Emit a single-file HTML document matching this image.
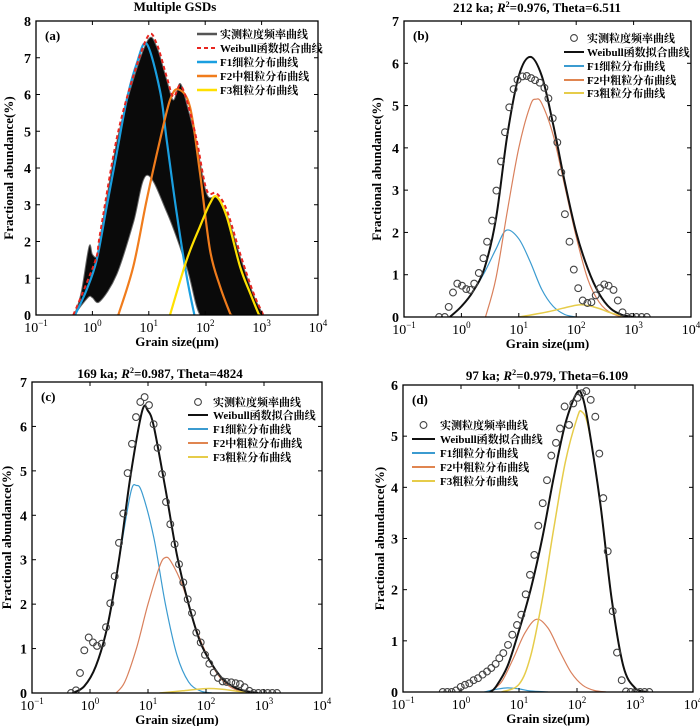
<!DOCTYPE html>
<html><head><meta charset="utf-8"><style>
html,body{margin:0;padding:0;background:#fff;}
svg{display:block;font-family:"Liberation Serif","Noto Serif CJK SC",serif;}
</style></head><body>
<svg id="chart" width="700" height="726" viewBox="0 0 700 726" xmlns="http://www.w3.org/2000/svg"></svg>
<script>
// ---------- DATA (log10 of grain size in µm, abundance in %) ----------
// Panel a
const aEnvUpperLog=[-0.32,-0.2,-0.06,0.0,0.076,0.135,0.431,0.726,0.992,1.14,1.317,1.435,1.553,1.672,1.849,2.026,2.204,2.381,2.617,2.854,3.031];
const aEnvUpperVal=[0,0.6,1.86,1.65,1.6,2.1,4.7,6.4,7.5,7.3,6.4,5.85,6.3,5.75,4.65,3.3,3.2,2.75,1.6,0.55,0];
const aEnvLowerLog=[3.031,2.6,2.2,1.908,1.672,1.317,0.962,0.726,0.431,0.135,0.0,-0.06,-0.2,-0.32];
const aEnvLowerVal=[0,0,0,0,1.3,2.8,3.8,2.5,1.1,0.37,0.47,0.5,0.25,0];
const aRedLog=[-0.338,-0.101,0.076,0.135,0.431,0.726,0.992,1.14,1.317,1.435,1.553,1.672,1.849,2.026,2.204,2.381,2.617,2.854,3.031];
const aRedVal=[0,0.87,1.6,2.2,4.8,6.5,7.6,7.38,6.48,5.94,6.25,5.85,4.76,3.4,3.31,2.86,1.68,0.6,0];
const aBlueLog=[-0.308,-0.101,0.076,0.253,0.431,0.608,0.785,0.962,1.199,1.317,1.494,1.672,1.808];
const aBlueVal=[0,0.69,1.5,2.95,4.4,5.85,6.84,7.38,6.1,4.76,2.77,1.05,0];
const aOrangeLog=[0.46,0.726,0.962,1.199,1.376,1.524,1.731,1.908,2.085,2.263,2.44,2.47];
const aOrangeVal=[0,1.32,3.13,4.76,5.85,6.14,5.66,3.86,1.77,0.78,0.05,0];
const aYellowLog=[1.376,1.672,1.908,2.085,2.204,2.381,2.617,2.795,2.942,2.972];
const aYellowVal=[0,1.5,2.41,3.04,3.22,2.68,1.32,0.6,0.05,0];
// Panel b
const bObsLog=[-0.388,-0.29,-0.221,-0.146,-0.071,0.01,0.084,0.154,0.223,0.304,0.384,0.448,0.534,0.609,0.69,0.759,0.834,0.909,0.978,1.065,1.14,1.215,1.284,1.365,1.446,1.515,1.59,1.67,1.74,1.803,1.884,1.959,2.034,2.114,2.195,2.264,2.339,2.414,2.489,2.564,2.65,2.725,2.806,2.887,2.968,3.05,3.14,3.23];
const bObsVal=[0,0,0.24,0.58,0.79,0.74,0.66,0.64,0.79,1.04,1.39,1.78,2.28,2.99,3.68,4.37,4.96,5.39,5.61,5.69,5.7,5.65,5.6,5.54,5.42,5.17,4.7,4.13,3.42,2.43,1.78,1.12,0.68,0.39,0.33,0.35,0.51,0.68,0.77,0.74,0.64,0.39,0.11,0,0,0,0,0];
const bFitLog=[-0.2,0,0.2,0.4,0.6,0.8,1.0,1.2,1.4,1.6,1.8,2.0,2.2,2.4,2.6,2.8,3.0];
const bFitVal=[0,0.25,0.6,1.15,2.3,4.3,5.7,6.15,5.7,4.55,3.2,2.0,1.15,0.55,0.2,0.05,0];
const bF1Log=[-0.2,0,0.2,0.4,0.6,0.78,1.0,1.2,1.4,1.6,1.8,2.0];
const bF1Val=[0,0.25,0.6,1.05,1.6,2.05,1.85,1.3,0.65,0.25,0.06,0];
const bF2Log=[0.42,0.6,0.8,1.0,1.2,1.3,1.4,1.6,1.8,2.0,2.2,2.4,2.6,2.8];
const bF2Val=[0,0.9,2.5,4.0,5.0,5.15,5.05,4.3,3.1,1.9,0.9,0.35,0.1,0];
const bF3Log=[1.0,1.5,2.0,2.2,2.4,2.6,2.8,3.0];
const bF3Val=[0,0.12,0.28,0.27,0.2,0.1,0.03,0];
// Panel c
const cObsLog=[-0.328,-0.242,-0.173,-0.098,-0.023,0.051,0.12,0.201,0.276,0.35,0.425,0.5,0.574,0.649,0.724,0.793,0.868,0.942,1.017,1.097,1.166,1.241,1.31,1.385,1.459,1.534,1.609,1.684,1.758,1.833,1.908,1.982,2.057,2.132,2.207,2.287,2.356,2.436,2.511,2.586,2.666,2.747,2.822,2.902,2.982,3.063,3.143,3.224];
const cObsVal=[0,0.06,0.45,0.96,1.25,1.14,1.06,1.11,1.48,2.02,2.63,3.38,4.04,4.95,5.61,6.21,6.55,6.66,6.48,6.05,5.52,4.93,4.3,3.8,3.35,2.9,2.49,2.11,1.8,1.36,1.14,0.86,0.66,0.46,0.34,0.26,0.25,0.24,0.22,0.2,0.13,0.05,0,0,0,0,0,0];
const cFitLog=[-0.3,-0.1,0.1,0.3,0.5,0.7,0.9,1.0,1.1,1.3,1.5,1.7,1.9,2.1,2.3,2.5,2.7,2.9];
const cFitVal=[0,0.15,0.6,1.5,3.0,4.9,6.35,6.35,6.0,4.6,3.1,2.0,1.15,0.65,0.3,0.12,0.04,0];
const cF1Log=[-0.3,-0.1,0.1,0.3,0.5,0.7,0.8,0.9,1.1,1.3,1.5,1.7,1.9,2.1];
const cF1Val=[0,0.15,0.6,1.5,3.0,4.5,4.67,4.5,3.5,2.0,0.85,0.25,0.05,0];
const cF2Log=[0.45,0.6,0.8,1.0,1.2,1.3,1.4,1.6,1.8,2.0,2.2,2.4,2.6,2.8];
const cF2Val=[0,0.25,1.0,2.0,2.85,3.05,2.95,2.4,1.55,0.9,0.42,0.15,0.04,0];
const cF3Log=[1.2,1.6,2.0,2.3,2.6,2.9];
const cF3Val=[0,0.05,0.1,0.08,0.03,0];
// Panel d
const dObsLog=[-0.316,-0.236,-0.161,-0.086,-0.006,0.069,0.143,0.218,0.293,0.373,0.448,0.523,0.597,0.661,0.73,0.81,0.885,0.965,1.04,1.115,1.189,1.264,1.333,1.408,1.483,1.557,1.638,1.707,1.787,1.862,1.937,2.011,2.086,2.161,2.236,2.316,2.385,2.454,2.529,2.615,2.69,2.77,2.845,2.925,3.006,3.086,3.166,3.247];
const dObsVal=[0,0,0,0.03,0.1,0.14,0.17,0.23,0.27,0.34,0.4,0.47,0.55,0.66,0.76,0.92,1.12,1.31,1.51,1.91,2.29,2.68,3.25,3.69,4.14,4.62,4.87,5.15,5.58,5.22,5.64,5.75,5.84,5.88,5.71,5.38,4.66,3.79,2.75,1.58,0.77,0.23,0.01,0,0,0,0,0];
const dFitLog=[0.5,0.6,0.8,1.0,1.2,1.4,1.6,1.8,2.0,2.1,2.2,2.4,2.6,2.8,3.0,3.2];
const dFitVal=[0,0.1,0.5,1.2,2.0,3.0,4.2,5.25,5.85,5.75,5.2,3.7,1.8,0.5,0.08,0];
const dF1Log=[0.4,0.6,0.8,1.0,1.2,1.5];
const dF1Val=[0,0.05,0.08,0.06,0.02,0];
const dF2Log=[0.5,0.7,0.9,1.1,1.3,1.5,1.7,1.9,2.1,2.3,2.5];
const dF2Val=[0,0.2,0.65,1.15,1.42,1.25,0.8,0.38,0.13,0.03,0];
const dF3Log=[0.7,1.0,1.2,1.4,1.6,1.8,2.0,2.08,2.2,2.4,2.6,2.8,3.0,3.2];
const dF3Val=[0,0.15,0.7,1.8,3.2,4.5,5.35,5.48,5.15,3.7,1.8,0.5,0.08,0];
const xTickExp=[-1,0,1,2,3,4];
const legendLabels=["实测粒度频率曲线","Weibull函数拟合曲线","F1细粒分布曲线","F2中粗粒分布曲线","F3粗粒分布曲线"];

// ---------- DRAWING ----------
const NS="http://www.w3.org/2000/svg";
const svg=document.getElementById('chart');
function mk(tag,attrs,parent){const e=document.createElementNS(NS,tag);for(const k in attrs)e.setAttribute(k,attrs[k]);(parent||svg).appendChild(e);return e;}
function sx(p,l){return p.x0+(l+1)/5*(p.x1-p.x0);}
function sy(p,v){return p.y1-v/p.ymax*(p.y1-p.y0);}
function smoothPath(pts){
  let d='M'+pts[0][0].toFixed(1)+','+pts[0][1].toFixed(1);
  for(let i=0;i<pts.length-1;i++){
    const p0=pts[Math.max(0,i-1)],p1=pts[i],p2=pts[i+1],p3=pts[Math.min(pts.length-1,i+2)];
    const c1=[p1[0]+(p2[0]-p0[0])/6,p1[1]+(p2[1]-p0[1])/6];
    const c2=[p2[0]-(p3[0]-p1[0])/6,p2[1]-(p3[1]-p1[1])/6];
    d+='C'+c1[0].toFixed(1)+','+c1[1].toFixed(1)+' '+c2[0].toFixed(1)+','+c2[1].toFixed(1)+' '+p2[0].toFixed(1)+','+p2[1].toFixed(1);
  }
  return d;
}
function pts(p,L,V){return L.map((l,i)=>[sx(p,l),Math.min(p.y1,sy(p,V[i]))]);}
function curve(p,g,L,V,color,w,name,dash){
  const e=mk('path',{d:smoothPath(pts(p,L,V)),fill:'none',stroke:color,'stroke-width':w,'stroke-linejoin':'round'},g);
  if(dash)e.setAttribute('stroke-dasharray',dash);
  
  
  return e;
}
function circles(p,g,L,V,name){
  L.forEach((l,i)=>{
    const c=mk('circle',{cx:sx(p,l).toFixed(1),cy:sy(p,V[i]).toFixed(1),r:3.4,fill:'none',stroke:'#444','stroke-width':1.1},g);
    
    
  });
}
function axes(p,id,title,yTicks,titleX,titleY,ylabelX){
  const g=mk('g',{});
  
  
  p.g=g;
  const cp=mk('clipPath',{id:'clip-'+id},g);
  mk('rect',{x:p.x0,y:p.y0,width:p.x1-p.x0,height:p.y1-p.y0},cp);
  p.plot=mk('g',{'clip-path':'url(#clip-'+id+')'},g);
  const t=mk('text',{x:titleX,y:titleY,'text-anchor':'middle','font-size':13,'font-weight':'bold'},g);
  
  
  t.innerHTML=title;
  yTicks.forEach(v=>{
    const y=sy(p,v);
    mk('line',{x1:p.x0,x2:p.x0+4,y1:y,y2:y,stroke:'#000','stroke-width':1},g);
    mk('line',{x1:p.x1,x2:p.x1-4,y1:y,y2:y,stroke:'#000','stroke-width':1},g);
    const tl=mk('text',{x:p.x0-5,y:y+5,'text-anchor':'end','font-size':14,'font-weight':'bold'},g);
    
    
    tl.textContent=v;
  });
  xTickExp.forEach(e=>{
    const x=sx(p,e);
    mk('line',{x1:x,x2:x,y1:p.y1,y2:p.y1-4,stroke:'#000','stroke-width':1},g);
    mk('line',{x1:x,x2:x,y1:p.y0,y2:p.y0+4,stroke:'#000','stroke-width':1},g);
    const tl=mk('text',{x:x,y:p.y1+17,'text-anchor':'middle','font-size':14},g);
    
    
    tl.innerHTML='10<tspan font-size="9" dy="-6">'+(e<0?'−1':e)+'</tspan>';
  });
  const xl=mk('text',{x:(p.x0+p.x1)/2,y:p.y1+31,'text-anchor':'middle','font-size':13,'font-weight':'bold'},g);
  
  
  xl.textContent='Grain size(μm)';
  const cy=(p.y0+p.y1)/2;
  const yl=mk('text',{x:ylabelX,y:cy,'text-anchor':'middle','font-size':13,'font-weight':'bold',transform:'rotate(-90 '+ylabelX+' '+cy+')'},g);
  
  
  yl.textContent='Fractional abundance(%)';
  const lb=mk('text',{x:p.x0+9,y:p.y0+19,'font-size':13,'font-weight':'bold'},g);
  
  
  lb.textContent='('+id+')';
  return g;
}
function frame(p){
  const f=mk('rect',{x:p.x0,y:p.y0,width:p.x1-p.x0,height:p.y1-p.y0,fill:'none',stroke:'#000','stroke-width':1.3},p.g);
  
  
}
function legend(p,lx,tx,ys,items){
  const g=mk('g',{},p.g);
  
  
  items.forEach((it,i)=>{
    const y=ys[i];
    if(it.type==='circle'){mk('circle',{cx:(lx[0]+lx[1])/2,cy:y,r:3.4,fill:'none',stroke:'#444','stroke-width':1.1},g);}
    else{const l=mk('line',{x1:lx[0],x2:lx[1],y1:y,y2:y,stroke:it.color,'stroke-width':it.w},g);if(it.dash)l.setAttribute('stroke-dasharray',it.dash);}
    const t=mk('text',{x:tx,y:y+4,'font-size':11,'font-weight':'bold'},g);
    
    
    t.textContent=legendLabels[i];
  });
}

// Panel a
const pa={x0:36,x1:318,y0:21,y1:315,ymax:8};
axes(pa,'a','Multiple GSDs',[0,1,2,3,4,5,6,7,8],175,11,13);
{
  const up=pts(pa,aEnvUpperLog,aEnvUpperVal), lo=pts(pa,aEnvLowerLog,aEnvLowerVal);
  const d=smoothPath(up)+smoothPath(lo).replace('M','L')+'Z';
  const e=mk('path',{d:d,fill:'#0a0a0a',stroke:'#666','stroke-width':1},pa.plot);
  
  
  curve(pa,pa.plot,aBlueLog,aBlueVal,'#1a9fe0',2.2,'f1-fine-curve');
  curve(pa,pa.plot,aOrangeLog,aOrangeVal,'#f07c1c',2.2,'f2-medium-curve');
  curve(pa,pa.plot,aYellowLog,aYellowVal,'#ffe000',2.2,'f3-coarse-curve');
  curve(pa,pa.plot,aRedLog,aRedVal,'#e8251f',2,'weibull-fit-curve','4,3');
}
frame(pa);
legend(pa,[197,217],220,[34,48,62,76,90],[{color:'#555',w:2.5},{color:'#e8251f',w:2,dash:'4,3'},{color:'#1a9fe0',w:2.5},{color:'#f07c1c',w:2.5},{color:'#ffe000',w:2.5}]);

// Panel b
const pb={x0:404,x1:691,y0:21,y1:317,ymax:7};
axes(pb,'b','212 ka; <tspan font-style="italic">R</tspan><tspan font-size="8" dy="-5">2</tspan><tspan dy="5">=0.976, Theta=6.511</tspan>',[0,1,2,3,4,5,6,7],537,12,381);
curve(pb,pb.plot,bF1Log,bF1Val,'#3b9bd0',1.2,'f1-fine-curve');
curve(pb,pb.plot,bF2Log,bF2Val,'#d9805c',1.2,'f2-medium-curve');
curve(pb,pb.plot,bF3Log,bF3Val,'#e6cc4a',1.5,'f3-coarse-curve');
curve(pb,pb.plot,bFitLog,bFitVal,'#111',2,'weibull-fit-curve');
circles(pb,pb.plot,bObsLog,bObsVal,'observed-point');
frame(pb);
legend(pb,[564,584],587,[38,52,66,80,93],[{type:'circle'},{color:'#111',w:2},{color:'#3b9bd0',w:2},{color:'#e08550',w:2},{color:'#e6cc4a',w:2}]);

// Panel c
const pc={x0:32,x1:322,y0:382,y1:693,ymax:7};
axes(pc,'c','169 ka; <tspan font-style="italic">R</tspan><tspan font-size="8" dy="-5">2</tspan><tspan dy="5">=0.987, Theta=4824</tspan>',[0,1,2,3,4,5,6,7],160,378,11);
curve(pc,pc.plot,cF1Log,cF1Val,'#3b9bd0',1.2,'f1-fine-curve');
curve(pc,pc.plot,cF2Log,cF2Val,'#d9805c',1.2,'f2-medium-curve');
curve(pc,pc.plot,cF3Log,cF3Val,'#e6cc4a',1.5,'f3-coarse-curve');
curve(pc,pc.plot,cFitLog,cFitVal,'#111',2,'weibull-fit-curve');
circles(pc,pc.plot,cObsLog,cObsVal,'observed-point');
frame(pc);
legend(pc,[188,208],213,[402,415,429,443,457],[{type:'circle'},{color:'#111',w:2},{color:'#3b9bd0',w:2},{color:'#e08550',w:2},{color:'#e6cc4a',w:2}]);

// Panel d
const pd={x0:403,x1:693,y0:385,y1:692,ymax:6};
axes(pd,'d','97 ka; <tspan font-style="italic">R</tspan><tspan font-size="8" dy="-5">2</tspan><tspan dy="5">=0.979, Theta=6.109</tspan>',[0,1,2,3,4,5,6],547,380,384);
curve(pd,pd.plot,dF1Log,dF1Val,'#3b9bd0',1.2,'f1-fine-curve');
curve(pd,pd.plot,dF2Log,dF2Val,'#d9805c',1.2,'f2-medium-curve');
curve(pd,pd.plot,dF3Log,dF3Val,'#e6cc4a',1.5,'f3-coarse-curve');
curve(pd,pd.plot,dFitLog,dFitVal,'#111',2,'weibull-fit-curve');
circles(pd,pd.plot,dObsLog,dObsVal,'observed-point');
frame(pd);
legend(pd,[412,435],440,[425,439,453,467,481],[{type:'circle'},{color:'#111',w:2},{color:'#3b9bd0',w:2},{color:'#e08550',w:2},{color:'#e6cc4a',w:2}]);
</script>
</body></html>
